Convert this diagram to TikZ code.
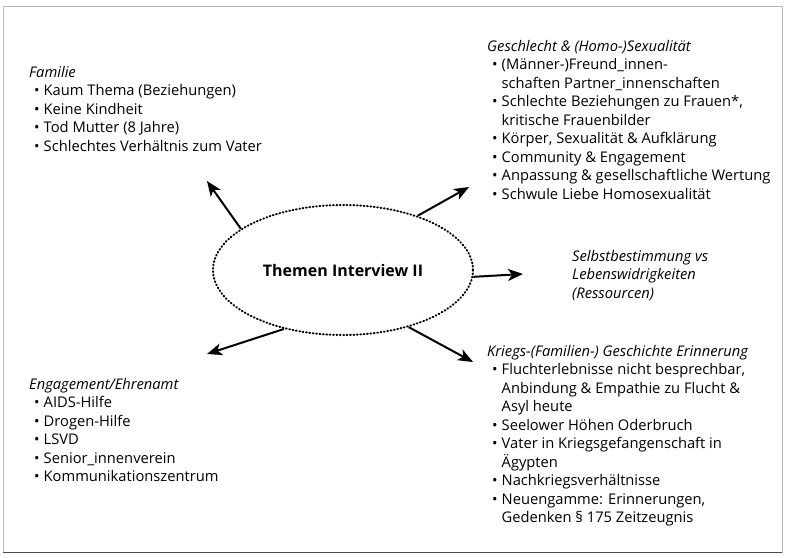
\documentclass[tikz,border=0pt]{standalone}
\usepackage{fontspec}
\setmainfont{Open Sans}
\usetikzlibrary{arrows.meta,shapes.geometric}
% bullet item and continuation indent for the topic lists
\newcommand\bul{\hspace*{5pt}\makebox[9.5pt][l]{\textbullet}}
\newcommand\ind{\hspace*{14.5pt}}
\begin{document}
\begin{tikzpicture}[x=1pt,y=-1pt,
  txt/.style={align=left, inner sep=0pt, anchor=north west,
    font=\fontsize{14.7}{18.5}\selectfont},
  hub/.style={ellipse, draw, line width=2pt, dash pattern=on 0.8pt off 2.6pt,
    line cap=round, minimum width=260pt, minimum height=130pt, inner sep=0pt,
    font=\fontsize{16}{18}\selectfont\bfseries},
  link/.style={-{Stealth[length=15pt,width=12pt,inset=4pt]}, line width=2pt}]
\useasboundingbox (0,0) rectangle (786,557);
% page frame
\draw[gray!55, line width=0.8pt] (3,6) rectangle (782,552);
\draw[black!70, line width=0.9pt] (3,552) -- (782,552);

\node[hub] (hub) at (343,270) {Themen Interview II};

% topic blocks
\node[txt] (fam) at (29,64) {\strut\textit{Familie}\\
  \bul Kaum Thema (Beziehungen)\\
  \bul Keine Kindheit\\
  \bul Tod Mutter (8 Jahre)\\
  \bul Schlechtes Verhältnis zum Vater};

\node[txt] (sex) at (487,38) {\strut\textit{Geschlecht \& (Homo-)Sexualität}\\
  \bul (Männer-)Freund\_innen-\\
  \ind schaften Partner\_innenschaften\\
  \bul Schlechte Beziehungen zu Frauen*,\\
  \ind kritische Frauenbilder\\
  \bul Körper, Sexualität \& Aufklärung\\
  \bul Community \& Engagement\\
  \bul Anpassung \& gesellschaftliche Wertung\\
  \bul Schwule Liebe Homosexualität};

\node[txt] (self) at (572,248) {\strut\textit{Selbstbestimmung vs}\\
  \textit{Lebenswidrigkeiten}\\
  \textit{(Ressourcen)}};

\node[txt] (krieg) at (487,343) {\strut\textit{Kriegs-(Familien-) Geschichte Erinnerung}\\
  \bul Fluchterlebnisse nicht besprechbar,\\
  \ind Anbindung \& Empathie zu Flucht \&\\
  \ind Asyl heute\\
  \bul Seelower Höhen Oderbruch\\
  \bul Vater in Kriegsgefangenschaft in\\
  \ind Ägypten\\
  \bul Nachkriegsverhältnisse\\
  \bul Neuengamme: Erinnerungen,\\
  \ind Gedenken § 175 Zeitzeugnis};

\node[txt] (ehren) at (29,376) {\strut\textit{Engagement/Ehrenamt}\\
  \bul AIDS-Hilfe\\
  \bul Drogen-Hilfe\\
  \bul LSVD\\
  \bul Senior\_innenverein\\
  \bul Kommunikationszentrum};

% arrow tips
\coordinate (t1) at (207,181);
\coordinate (t2) at (469,187);
\coordinate (t3) at (523,274);
\coordinate (t4) at (207,354);
\coordinate (t5) at (473,362);

\draw[link] (hub.158) -- (t1);
\draw[link] (hub.36) -- (t2);
\draw[link] (hub.-3) -- (t3);
\draw[link] (hub.225) -- (t4);
\draw[link] (hub.319) -- (t5);
\end{tikzpicture}
\end{document}
